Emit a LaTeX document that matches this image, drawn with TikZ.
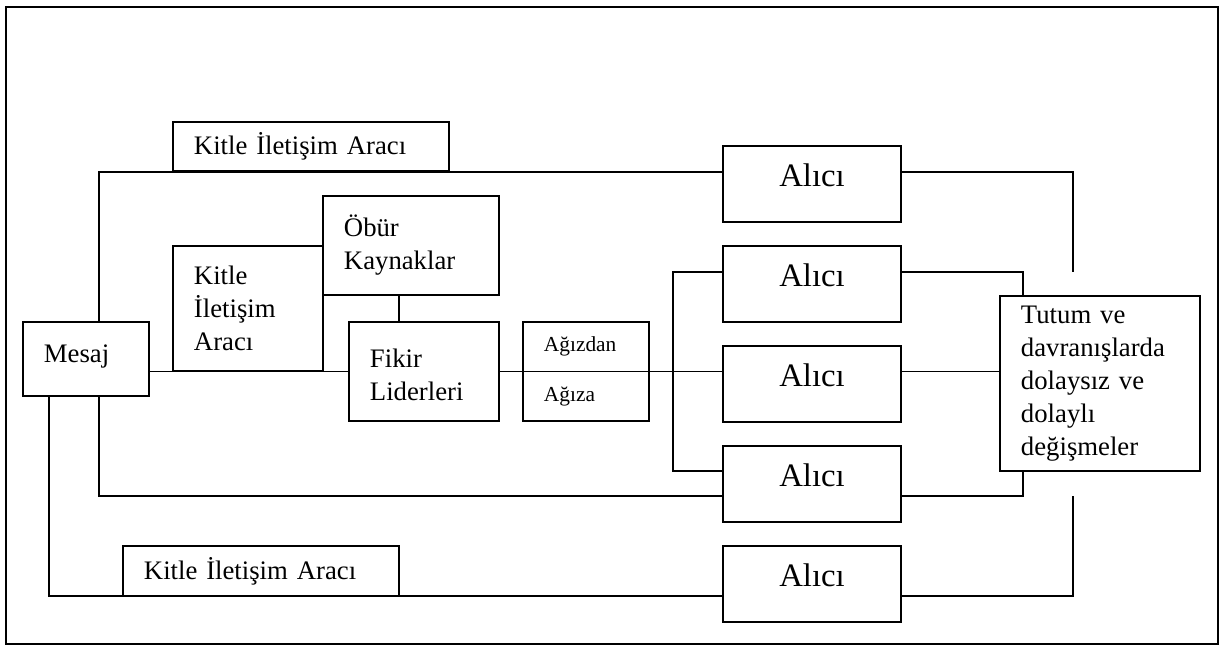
\documentclass[tikz,border=0pt]{standalone}
\usepackage{fontspec}
\setmainfont{Liberation Serif}

\begin{document}
\begin{tikzpicture}[x=0.025cm, y=-0.025cm, line width=1.4pt,
  box/.style={draw, rectangle, inner xsep=0.525cm, inner ysep=0pt, align=left, font=\fontsize{19}{23.5}\selectfont},
  alici/.style={draw, rectangle, minimum width=4.45cm, minimum height=1.9cm, text height=0.7em, text depth=0.35em, font=\fontsize{23.3}{28}\selectfont}]
\useasboundingbox (0,0) rectangle (1220,645);
\draw (6,7) rectangle (1218,644);
\node[box, text width=2.1cm, minimum height=1.85cm, text depth=0.75em] (mesaj) at (86,359) {Mesaj};
\node[box, text width=5.85cm, minimum height=1.225cm] (kitle1) at (311,146.5) {Kitle İletişim Aracı};
\node[box, text width=2.7cm, minimum height=3.125cm] (kitle2) at (248,308.5) {Kitle\\İletişim\\Aracı};
\node[box, text width=3.35cm, minimum height=2.475cm] (obur) at (411,245.5) {Öbür\\Kaynaklar};
\node[box, text width=2.7cm, minimum height=2.475cm, text depth=1.85em] (fikir) at (424,371.5) {Fikir\\Liderleri};
\node[box, text width=2.1cm, minimum height=2.475cm, font=\fontsize{15.2}{36}\selectfont] (agiz) at (586,371.5) {Ağızdan\\Ağıza};
\node[box, text width=3.95cm, minimum height=4.375cm] (tutum) at (1100,383.5) {Tutum ve\\davranışlarda\\dolaysız ve\\dolaylı\\değişmeler};
\node[box, text width=5.85cm, minimum height=1.25cm] (kitle3) at (261,571) {Kitle İletişim Aracı};
\node[alici] (alici1) at (812,184) {Alıcı};
\node[alici] (alici2) at (812,284) {Alıcı};
\node[alici] (alici3) at (812,384) {Alıcı};
\node[alici] (alici4) at (812,484) {Alıcı};
\node[alici] (alici5) at (812,584) {Alıcı};
\coordinate (k1) at (99,172);
\coordinate (k2) at (1073,172);
\coordinate (u1) at (1073,272);
\coordinate (k3) at (673,272);
\coordinate (k4) at (673,471);
\coordinate (k5) at (1023,272);
\coordinate (k6) at (99,496);
\coordinate (k7) at (1023,496);
\coordinate (k8) at (49,596);
\coordinate (k9) at (1073,596);
\coordinate (u2) at (1073,496);
\coordinate (k10) at (399,308);
\draw (mesaj.north -| k1) -- (k1) -- (alici1.west |- k1);
\draw (alici1.east |- k2) -- (k2) -- (u1);
\draw (fikir.west -| mesaj.east) -- (fikir.west);
\draw (obur.south -| k10) -- (fikir.north -| k10);
\draw (fikir.east) -- (alici3.west |- fikir.east);
\draw (alici3.east |- fikir.east) -- (tutum.west |- fikir.east);
\draw (alici2.west |- k3) -- (k3) -- (k4) -- (alici4.west |- k4);
\draw (alici2.east |- k5) -- (k5) -- (tutum.north -| k5);
\draw (mesaj.south -| k6) -- (k6) -- (alici4.west |- k6);
\draw (alici4.east |- k7) -- (k7) -- (tutum.south -| k7);
\draw (mesaj.south -| k8) -- (k8) -- (alici5.west |- k8);
\draw (alici5.east |- k9) -- (k9) -- (u2);
\end{tikzpicture}
\end{document}
